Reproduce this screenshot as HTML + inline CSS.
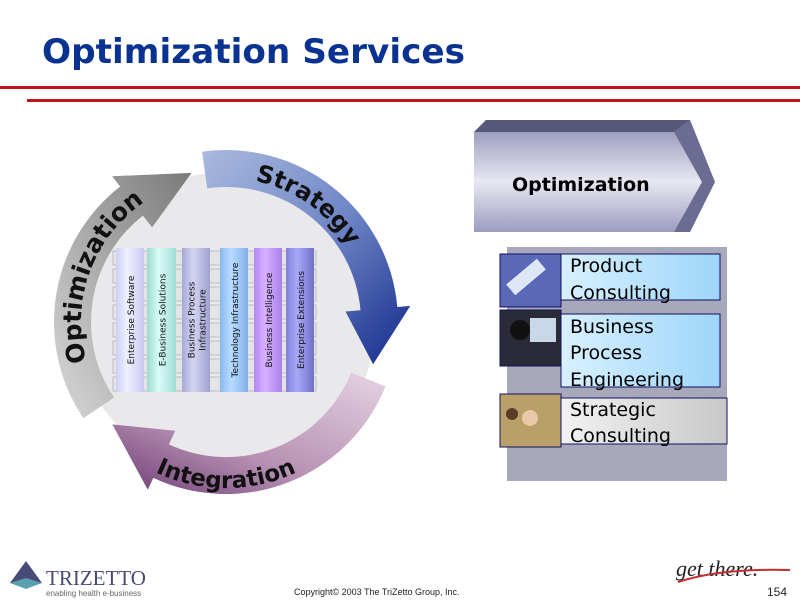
<!DOCTYPE html>
<html><head><meta charset="utf-8"><style>
html,body{margin:0;padding:0;background:#fff;}
body{width:800px;height:600px;overflow:hidden;position:relative;font-family:"DejaVu Sans","Liberation Sans",sans-serif;}
svg{position:absolute;left:0;top:0;}
</style></head><body>
<svg id="s" width="800" height="600" viewBox="0 0 800 600" xmlns="http://www.w3.org/2000/svg">
<defs>
<linearGradient id="gS" x1="0" y1="0" x2="1" y2="1"><stop offset="0" stop-color="#a9b9de"/><stop offset="0.5" stop-color="#6f86c6"/><stop offset="1" stop-color="#13288a"/></linearGradient>
<linearGradient id="gO" x1="0" y1="1" x2="1" y2="0"><stop offset="0" stop-color="#d8d8d8"/><stop offset="1" stop-color="#7a7a7a"/></linearGradient>
<linearGradient id="gI" x1="1" y1="0" x2="0" y2="1"><stop offset="0" stop-color="#e6d3e3"/><stop offset="0.6" stop-color="#b58fb2"/><stop offset="1" stop-color="#6b3a72"/></linearGradient>
<linearGradient id="chev" x1="0" y1="0" x2="0" y2="1"><stop offset="0" stop-color="#8c8cb2"/><stop offset="0.55" stop-color="#e8e8f2"/><stop offset="1" stop-color="#9c9cc0"/></linearGradient>
<linearGradient id="tb" x1="0" y1="0" x2="1" y2="0"><stop offset="0" stop-color="#d8f0ff"/><stop offset="1" stop-color="#9ed6fa"/></linearGradient>
<linearGradient id="tg" x1="0" y1="0" x2="1" y2="0"><stop offset="0" stop-color="#f2f2f2"/><stop offset="1" stop-color="#c8c8c8"/></linearGradient>
<linearGradient id="c1" x1="0" x2="1"><stop offset="0" stop-color="#cfcff8"/><stop offset="0.4" stop-color="#f0f0ff"/><stop offset="1" stop-color="#c8c8f0"/></linearGradient>
<linearGradient id="c2" x1="0" x2="1"><stop offset="0" stop-color="#9adad0"/><stop offset="0.4" stop-color="#d8fcf8"/><stop offset="1" stop-color="#a0dcd4"/></linearGradient>
<linearGradient id="c3" x1="0" x2="1"><stop offset="0" stop-color="#a8a8d8"/><stop offset="0.4" stop-color="#d4d4f4"/><stop offset="1" stop-color="#a0a0d0"/></linearGradient>
<linearGradient id="c4" x1="0" x2="1"><stop offset="0" stop-color="#88b8f0"/><stop offset="0.4" stop-color="#b8dcff"/><stop offset="1" stop-color="#80b0e8"/></linearGradient>
<linearGradient id="c5" x1="0" x2="1"><stop offset="0" stop-color="#b088f0"/><stop offset="0.4" stop-color="#d8b0ff"/><stop offset="1" stop-color="#a880e8"/></linearGradient>
<linearGradient id="c6" x1="0" x2="1"><stop offset="0" stop-color="#8080d8"/><stop offset="0.4" stop-color="#a8a8f8"/><stop offset="1" stop-color="#7070c8"/></linearGradient>
</defs>
<text x="42" y="63" font-family="DejaVu Sans" font-weight="bold" font-size="34" fill="#0a3391" textLength="423" lengthAdjust="spacingAndGlyphs">Optimization Services</text>
<rect x="0" y="86" width="800" height="3" fill="#c0141c"/>
<rect x="27" y="99" width="773" height="3" fill="#c0141c"/>
<circle cx="226" cy="322" r="150" fill="#e9e9ec"/>
<g id="ring"></g>
<!-- columns area -->
<g id="cols"></g>
<!-- right chevron -->
<polygon points="486,120 690,120 715,182 690,232 474,232 474,132" fill="url(#chev)"/>
<polygon points="486,120 690,120 674,132 474,132" fill="#58587a"/>
<polygon points="690,120 715,182 690,232 674,232 702,182 674,132" fill="#6c6c92"/>
<text x="512" y="191" font-family="DejaVu Sans" font-weight="bold" font-size="19" fill="#000">Optimization</text>
<rect x="507" y="247" width="220" height="234" fill="#a8a8bc"/>
<rect x="500" y="254" width="61" height="53" fill="#5a68b8" stroke="#101060"/>
<rect x="506" y="270" width="40" height="14" fill="#dfe6f6" transform="rotate(-40 526 277)"/>
<rect x="561" y="254" width="159" height="46" fill="url(#tb)" stroke="#101060"/>
<rect x="500" y="310" width="61" height="56" fill="#2a2a38" stroke="#101060"/>
<rect x="530" y="318" width="26" height="24" fill="#c8d8e8"/>
<circle cx="520" cy="330" r="10" fill="#111"/>
<rect x="561" y="314" width="159" height="73" fill="url(#tb)" stroke="#101060"/>
<rect x="500" y="394" width="61" height="53" fill="#b8a068" stroke="#101060"/>
<circle cx="530" cy="418" r="8" fill="#e8c8a8"/><circle cx="512" cy="414" r="6" fill="#5a3a28"/>
<rect x="561" y="398" width="166" height="46" fill="url(#tg)" stroke="#101060"/>
<g font-family="DejaVu Sans" font-size="19" fill="#000">
<text x="570" y="272">Product</text><text x="570" y="299">Consulting</text>
<text x="570" y="333">Business</text><text x="570" y="359">Process</text><text x="570" y="386">Engineering</text>
<text x="570" y="416">Strategic</text><text x="570" y="442">Consulting</text>
</g>
<!-- footer -->
<polygon points="26,561 10,583 42,583" fill="#4a4a78"/>
<polygon points="10,583 26,578 42,583 26,589" fill="#5aa0b0"/>
<text x="46" y="585" font-family="Liberation Serif" font-size="21" fill="#4a4a78">TRIZETTO</text>
<text x="46" y="596" font-family="Liberation Sans" font-size="8" fill="#666">enabling health e-business</text>
<text x="294" y="595" font-family="Liberation Sans" font-size="9" fill="#222">Copyright© 2003 The TriZetto Group, Inc.</text>
<text x="676" y="576" font-family="Liberation Serif" font-style="italic" font-size="22" fill="#222">get there.</text>
<path d="M678 582 Q720 568 790 570" stroke="#c03030" stroke-width="2" fill="none"/>
<text x="767" y="596" font-family="Liberation Sans" font-size="12" fill="#222">154</text>
</svg>
<script>
var NS="http://www.w3.org/2000/svg",cx=226,cy=322;
function P(t,r){var a=t*Math.PI/180;return [(cx+r*Math.sin(a)).toFixed(1),(cy-r*Math.cos(a)).toFixed(1)];}
function arrow(t0,tb,tt,fill){var Ro=172,Ri=135,Ho=185,Hi=120,Rm=153;
var a=P(t0,Ro),b=P(tb,Ro),c=P(tb,Ho),d=P(tt,Rm),e=P(tb,Hi),f=P(tb,Ri),g=P(t0,Ri);
var large=(tb-t0)>180?1:0;
var dd="M"+a+" A"+Ro+" "+Ro+" 0 "+large+" 1 "+b+" L"+c+" L"+d+" L"+e+" L"+f+" A"+Ri+" "+Ri+" 0 "+large+" 0 "+g+" Z";
var p=document.createElementNS(NS,"path");p.setAttribute("d",dd);p.setAttribute("fill",fill);document.getElementById("ring").appendChild(p);}
arrow(-8,85,106,"url(#gS)");
arrow(112,205,228,"url(#gI)");
arrow(236,322,347,"url(#gO)");
function tpath(id,t0,t1,r,sweep){var a=P(t0,r),b=P(t1,r);var p=document.createElementNS(NS,"path");p.setAttribute("id",id);p.setAttribute("fill","none");
p.setAttribute("d","M"+a+" A"+r+" "+r+" 0 0 "+sweep+" "+b);document.querySelector("defs").appendChild(p);}
tpath("pS",-20,90,144,1);tpath("pO",230,350,145,1);tpath("pI",250,110,166,0);
function ctext(href,size,txt){var t=document.createElementNS(NS,"text");t.setAttribute("font-family","DejaVu Sans");t.setAttribute("font-weight","bold");t.setAttribute("font-size",size);t.setAttribute("fill","#111");t.setAttribute("text-anchor","middle");
var tp=document.createElementNS(NS,"textPath");tp.setAttribute("href","#"+href);tp.setAttribute("startOffset","50%");tp.textContent=txt;t.appendChild(tp);document.getElementById("ring").appendChild(t);}
ctext("pS",24,"Strategy");ctext("pO",25,"Optimization");ctext("pI",23,"Integration");
var g=document.getElementById("cols"),h="";
for(var i=0;i<8;i++){var y=251+i*18;h+='<rect x="113" y="'+y+'" width="203" height="14" fill="#e4e4e4" stroke="#bdbdbd"/>';}
var cols=[[116,28,"c1","Enterprise Software"],[147,29,"c2","E-Business Solutions"],[182,28,"c3","Business Process|Infrastructure"],[220,28,"c4","Technology Infrastructure"],[254,28,"c5","Business Intelligence"],[286,28,"c6","Enterprise Extensions"]];
cols.forEach(function(c){h+='<rect x="'+c[0]+'" y="248" width="'+c[1]+'" height="144" fill="url(#'+c[2]+')"/>';
var mx=c[0]+c[1]/2,lines=c[3].split("|");
lines.forEach(function(l,k){var off=(k-(lines.length-1)/2)*11;h+='<text transform="translate('+(mx+4+off)+',320) rotate(-90)" text-anchor="middle" font-family="DejaVu Sans" font-size="9" fill="#111">'+l+'</text>';});});
g.innerHTML=h;
</script>
</body></html>
